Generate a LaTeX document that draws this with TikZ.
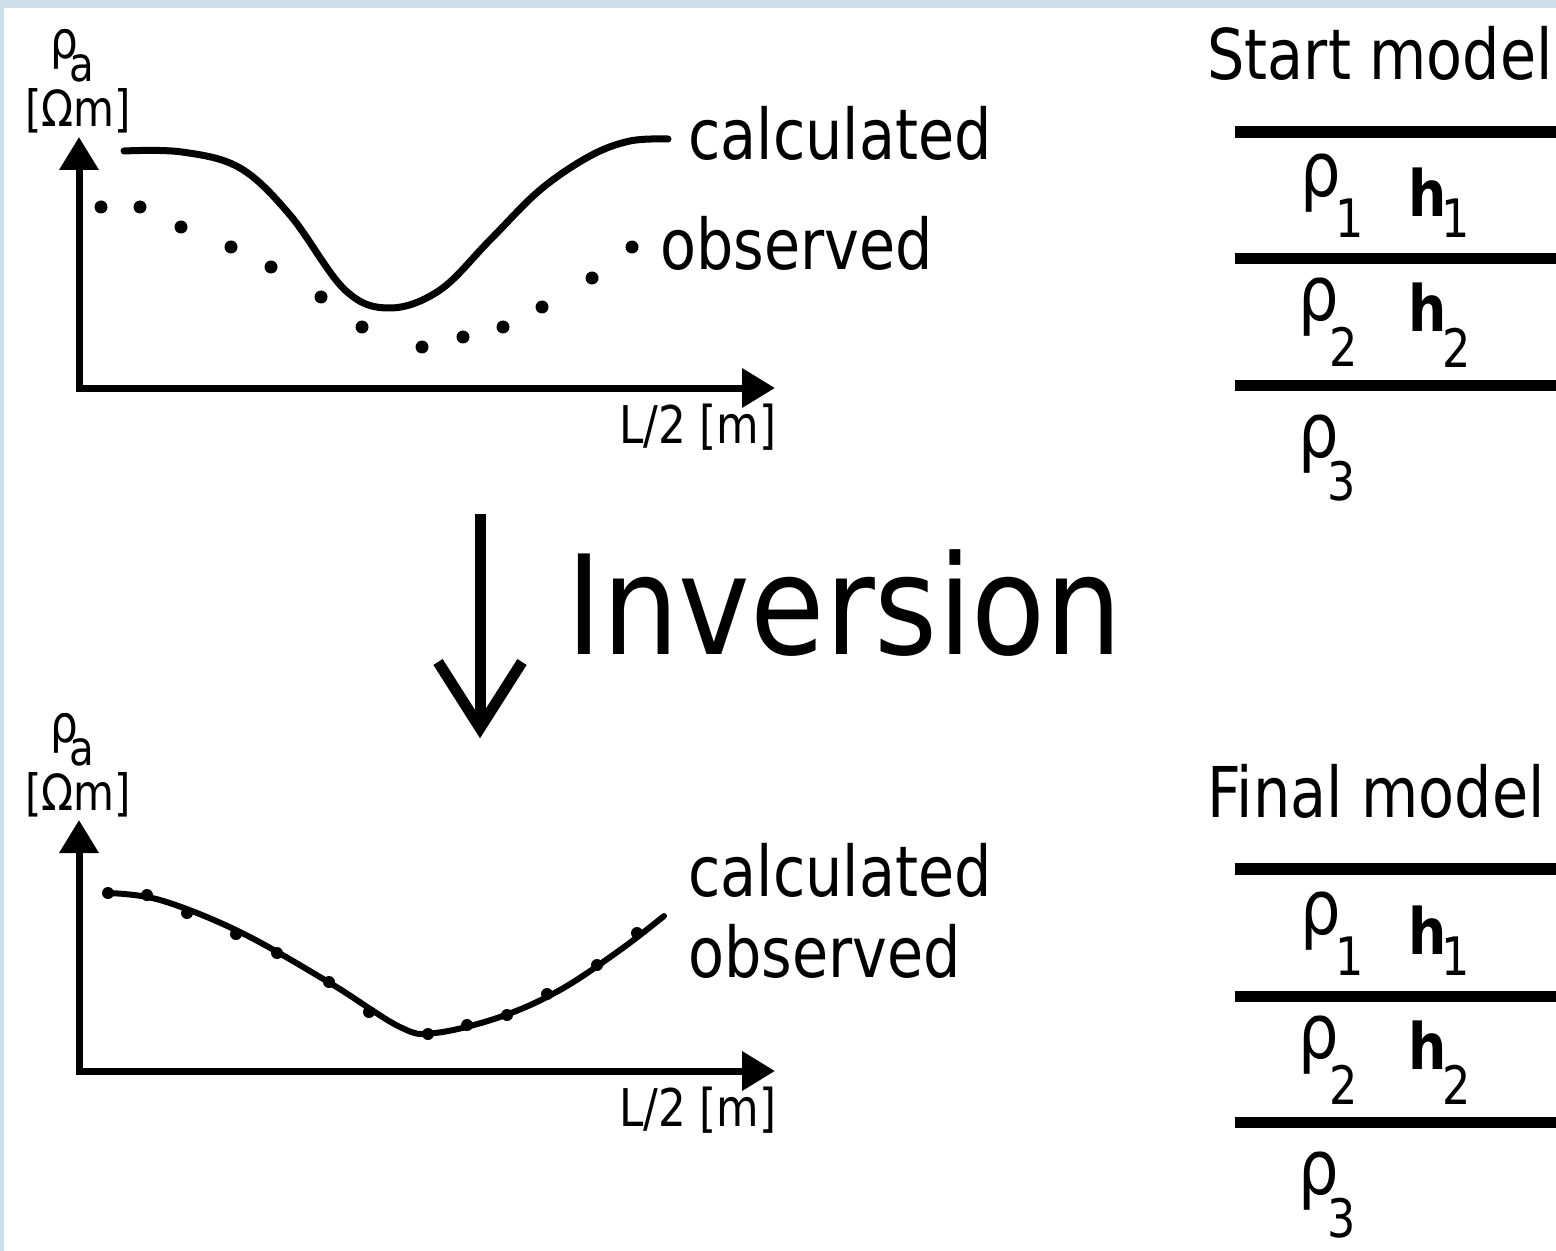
\documentclass[tikz,border=0pt]{standalone}
\usepackage{fontspec}
\usepackage{graphicx}
\setmainfont{DejaVu Sans}[FakeStretch=0.84]
\usetikzlibrary{arrows.meta}
\definecolor{bandblue}{RGB}{205,223,235}
\newcommand{\fsz}[1]{\fontsize{#1}{#1}\selectfont}
% symbol with a lowered index: {symbol}{kern}{drop}{index}
\newcommand{\withidx}[4]{#1\kern#2\raisebox{#3}{\fsz{26.5pt}\mdseries #4}}

\begin{document}
\begin{tikzpicture}[x=0.5pt, y=-0.5pt,
  lbl/.style={font={\fsz{35pt}}, inner sep=0pt, anchor=base west},
  axlbl/.style={font={\fsz{26pt}}, inner sep=0pt, anchor=base east},
  unit/.style={font={\fsz{25pt}}, inner sep=0pt},
  axis/.style={line width=3.5pt, line join=miter,
    {Triangle[length=16.5pt,width=19pt]}-{Triangle[length=16.5pt,width=19pt]}},
  curve/.style={line width=3.5pt, line cap=round},
  obs/.style={circle, fill=black, inner sep=0pt, minimum size=6.5pt},
  fitdot/.style={circle, fill=black, inner sep=0pt, minimum size=6pt},
  layer/.style={line width=5.5pt},
  rho/.style={font={\fsz{38pt}}, inner sep=0pt, anchor=base west},
  thk/.style={font={\bfseries\fsz{32pt}}, inner sep=0pt, anchor=base west},
  ]
  %%% page frame %%%
  \useasboundingbox (0,0) rectangle (1556,1251);
  \fill[bandblue] (0,0) rectangle (1556,1251);
  \fill[white] (4,8) rectangle (1556,1251);

  %%% axes and axis labels (upper and lower graph) %%%
  \foreach \gy/\g in {0/t,683/b} {
    \begin{scope}[shift={(0,\gy)}]
      \coordinate (org\g) at (79,388);
      \coordinate (ytip\g) at (79,137);
      \coordinate (xtip\g) at (775,388);
      \draw[axis] (ytip\g) -- (org\g) -- (xtip\g);
      \node[unit, font={\fsz{26pt}}, anchor=base west] (rho\g) at (50,59)
        {ρ\kern-4.5pt\raisebox{-11.5pt}{\fsz{24pt}a}};
      \node[unit, anchor=base] (ohm\g) at (78,127) {[Ωm]};
      \node[axlbl] (len\g) at (777,443) {L/2 [m]};
    \end{scope}
  }

  %%% upper graph: start model response vs. data %%%
  \draw[curve] plot[smooth, tension=0.6] coordinates {(124,151) (182,152) (240,168)
    (290,215) (345,290) (390,308) (440,290) (490,240) (540,190) (590,156) (630,141) (668,139)};
  \foreach \dx/\dy [count=\i] in {101/207, 140/207, 181/227, 231/247, 271/267, 321/297,
      362/327, 422/347, 463/337, 503/327, 542/307, 592/278, 632/247}
    \node[obs] (tobs\i) at (\dx,\dy) {};
  \node[lbl] (tcalc) at (688,160) {calculated};
  \node[lbl] (tobsv) at (660,270) {observed};

  %%% inversion step %%%
  \coordinate (invtop) at (480,514);
  \coordinate (invtip) at (480,728);
  \coordinate (invl) at (438,662);
  \coordinate (invr) at (522,662);
  \draw[line width=5.5pt] (invtop) -- (invtip);
  \draw[line width=5.5pt, line join=miter] (invl) -- (invtip) -- (invr);
  \node[font={\fsz{69pt}}, inner sep=0pt, anchor=base west] (inv) at (566,654)
    {\scalebox{1.045}[1]{Inversion}};

  %%% lower graph: final model fits the data %%%
  \draw[line width=3pt, line cap=round] plot[smooth, tension=0.6] coordinates {(107,893)
    (160,900) (240,932) (330,983) (400,1027) (435,1033) (500,1017) (560,990) (620,950) (664,916)};
  \foreach \dx/\dy [count=\i] in {108/893, 147/895, 187/913, 236/934, 277/953, 329/982,
      369/1012, 428/1034, 467/1025, 507/1015, 547/994, 597/965, 637/933}
    \node[fitdot] (bobs\i) at (\dx,\dy) {};
  \node[lbl] (bcalc) at (688,896) {calculated};
  \node[lbl] (bobsv) at (688,977) {observed};

  %%% layered earth models (start / final) %%%
  \foreach \sy/\ttl/\m in {0/Start/s,737/Final/f} {
    \begin{scope}[shift={(0,\sy)}]
      \node[lbl] (title\m) at (1207,80) {\ttl\ model};
      \draw[layer, line width=6pt] (1235,132) -- (1556,132);
      \draw[layer] (1235,259) -- (1556,259);
      \draw[layer] (1235,385) -- (1556,385);
      % layer 1
      \node[rho] (rho1\m) at (1300,197) {\withidx{ρ}{-2.75pt}{-20.5pt}{1}};
      \node[thk] (h1\m) at (1408,217) {\withidx{h}{-2.5pt}{-10.5pt}{1}};
      % layer 2
      \node[rho] (rho2\m) at (1298,321) {\withidx{ρ}{-4.75pt}{-23pt}{2}};
      \node[thk] (h2\m) at (1408,332) {\withidx{h}{-2pt}{-17.5pt}{2}};
      % half-space
      \node[rho] (rho3\m) at (1298,457) {\withidx{ρ}{-5.5pt}{-21.5pt}{3}};
    \end{scope}
  }
\end{tikzpicture}
\end{document}
